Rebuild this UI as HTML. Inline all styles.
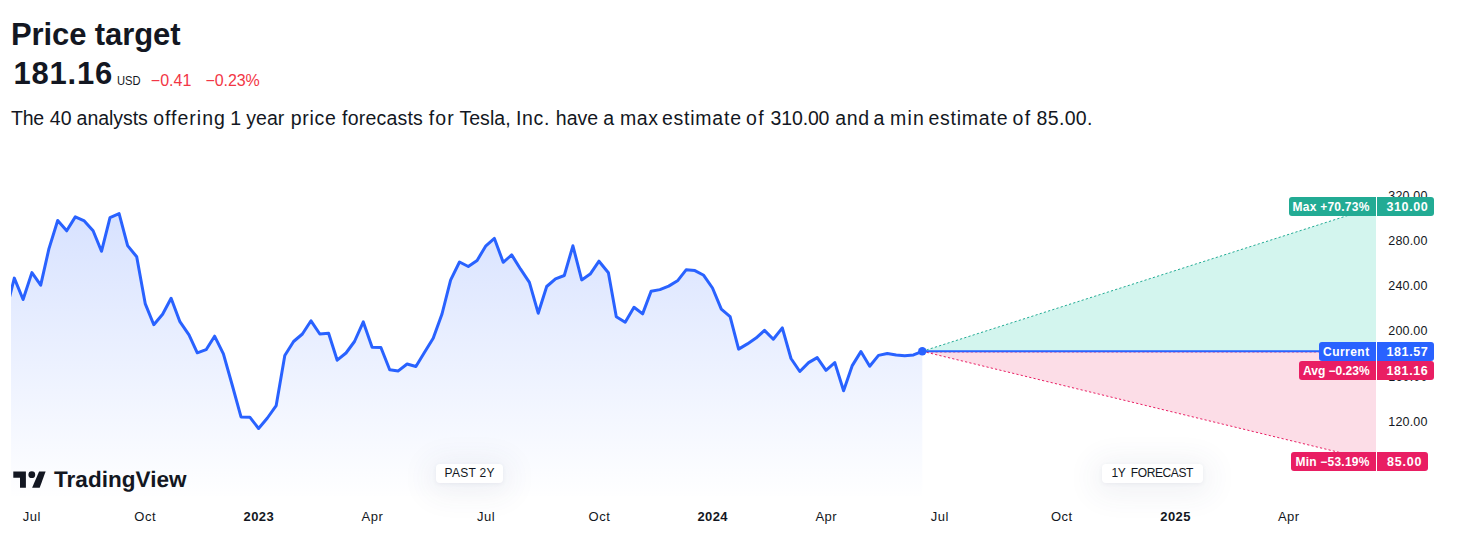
<!DOCTYPE html>
<html><head><meta charset="utf-8">
<style>
html,body{margin:0;padding:0;background:#fff;}
body{width:1463px;height:545px;position:relative;overflow:hidden;font-family:"Liberation Sans",sans-serif;color:#131722;}
.abs{position:absolute;white-space:nowrap;}
#title{left:11px;top:18px;font-size:31px;font-weight:bold;line-height:34px;letter-spacing:-0.1px;}
#price{left:13.4px;top:57px;font-size:31px;font-weight:bold;line-height:34px;letter-spacing:0.8px;}
#usd{left:117px;top:73.4px;font-size:13px;line-height:16px;transform:scaleX(0.86);transform-origin:0 0;}
#chg1{left:150.8px;top:70.8px;font-size:16px;line-height:20px;color:#f23645;}
#chg2{left:205.5px;top:70.8px;font-size:16px;line-height:20px;color:#f23645;letter-spacing:-0.1px;}
#desc{left:11px;top:106px;font-size:19.5px;line-height:24px;}
#desc span{position:absolute;top:0;}
svg{position:absolute;left:0;top:0;}
.yl{position:absolute;left:1388.3px;width:60px;font-size:12.5px;line-height:16px;letter-spacing:0.17px;color:#131722;white-space:nowrap;}
.xl{position:absolute;top:508.5px;width:60px;text-align:center;font-size:13px;line-height:16px;color:#131722;white-space:nowrap;letter-spacing:0.5px;text-indent:0.5px;}
.xl.b{font-weight:bold;letter-spacing:0.4px;text-indent:0.4px;}
.tag{position:absolute;height:18.6px;line-height:20.4px;font-size:12.5px;font-weight:bold;color:#fff;white-space:nowrap;box-sizing:border-box;text-align:right;}
.tag.l{border-radius:3px 0 0 3px;padding-right:6.2px;font-size:12px;}
.tag.v{left:1377.2px;border-radius:0 3px 3px 0;padding-right:5.6px;letter-spacing:0.62px;}
.g{background:#22ab94;} .bl{background:#2962ff;} .p{background:#e91e63;}
.badge{position:absolute;top:464px;height:19px;line-height:19px;background:#fff;border-radius:4px;font-size:12px;text-align:center;letter-spacing:0.3px;text-indent:0.3px;color:#131722;box-shadow:0 1px 4px rgba(60,70,110,0.07),0 4px 30px 8px rgba(60,70,110,0.07);white-space:nowrap;}
#logo{left:54px;top:466px;font-size:22.5px;font-weight:bold;line-height:28px;letter-spacing:0.05px;text-rendering:geometricPrecision;color:#131722;}
</style></head><body>
<div class="abs" id="title">Price target</div>
<div class="abs" id="price">181.16</div>
<div class="abs" id="usd">USD</div>
<div class="abs" id="chg1">&minus;0.41</div>
<div class="abs" id="chg2">&minus;0.23%</div>
<div class="abs" id="desc"><span style="left:0.1px;letter-spacing:-0.30px">The</span><span style="left:38.7px;letter-spacing:0.10px">40</span><span style="left:65.6px;letter-spacing:-0.04px">analysts</span><span style="left:142.2px;letter-spacing:0.99px">offering</span><span style="left:219.3px;letter-spacing:0.00px">1</span><span style="left:235.2px;letter-spacing:0.07px">year</span><span style="left:279.7px;letter-spacing:0.73px">price</span><span style="left:331.0px;letter-spacing:0.22px">forecasts</span><span style="left:417.8px;letter-spacing:1.10px">for</span><span style="left:448.4px;letter-spacing:0.06px">Tesla,</span><span style="left:504.9px;letter-spacing:0.73px">Inc.</span><span style="left:544.8px;letter-spacing:-0.00px">have</span><span style="left:592.2px;letter-spacing:0.00px">a</span><span style="left:609.1px;letter-spacing:0.50px">max</span><span style="left:650.9px;letter-spacing:0.77px">estimate</span><span style="left:735.1px;letter-spacing:1.20px">of</span><span style="left:759.6px;letter-spacing:-0.16px">310.00</span><span style="left:824.3px;letter-spacing:0.60px">and</span><span style="left:862.6px;letter-spacing:0.00px">a</span><span style="left:879.1px;letter-spacing:1.15px">min</span><span style="left:917.4px;letter-spacing:0.77px">estimate</span><span style="left:1001.6px;letter-spacing:1.20px">of</span><span style="left:1025.6px;letter-spacing:0.32px">85.00.</span></div>

<svg width="1463" height="545" viewBox="0 0 1463 545">
<defs>
<linearGradient id="ag" gradientUnits="userSpaceOnUse" x1="0" y1="190" x2="0" y2="496">
<stop offset="0" stop-color="#2962ff" stop-opacity="0.2"/>
<stop offset="1" stop-color="#2962ff" stop-opacity="0.003"/>
</linearGradient>
<clipPath id="cp"><rect x="11" y="150" width="920" height="346"/></clipPath>
</defs>
<g clip-path="url(#cp)">
<polygon points="5.5,313.5 14.3,278.1 23.1,299.5 31.9,272.6 40.7,285.2 48.9,248.9 57.7,220.5 66.7,230.8 75.3,216.9 84.3,220.9 93.1,230.8 101.5,251.3 110.0,217.6 119.1,213.6 127.6,245.6 136.7,256.8 145.2,303.6 153.8,324.7 162.6,314.2 171.1,298.3 179.9,321.7 189.0,334.9 197.3,352.8 206.1,349.7 214.6,336.2 223.4,353.9 232.2,385.0 241.0,416.9 249.8,417.2 258.6,428.5 267.4,418.0 276.2,405.6 284.8,355.5 293.6,341.5 302.4,334.0 311.0,320.8 319.8,334.0 328.6,333.2 337.2,360.2 346.0,353.0 354.5,341.5 363.3,321.9 372.1,347.3 380.9,347.5 389.7,369.8 398.3,370.9 407.1,364.0 415.9,366.5 424.4,352.5 433.2,338.2 442.0,314.0 450.6,280.1 459.5,262.0 468.3,266.5 477.1,260.4 485.9,245.8 494.4,238.4 503.2,262.3 511.7,254.9 520.6,269.2 529.4,282.4 538.2,313.2 546.7,286.5 555.5,278.8 564.3,275.5 572.9,245.8 581.7,279.9 590.2,274.1 599.0,261.2 608.4,272.8 616.3,316.8 625.2,322.2 634.0,307.2 642.6,313.9 651.1,291.3 659.9,289.6 668.7,286.1 677.5,280.8 686.1,269.8 694.9,270.6 703.7,275.3 712.5,288.0 721.3,309.2 730.1,316.6 738.6,349.1 747.4,343.9 756.0,338.1 764.5,330.4 773.3,339.2 782.3,327.9 791.0,358.5 799.8,371.5 808.6,362.6 817.2,357.6 826.0,370.3 834.8,362.6 843.6,390.7 852.1,365.9 860.9,351.6 869.7,366.2 878.5,355.4 887.3,353.5 896.2,354.9 904.7,355.7 913.5,354.9 922.3,351.3 922.3,496 5.5,496" fill="url(#ag)"/>
<polyline points="5.5,313.5 14.3,278.1 23.1,299.5 31.9,272.6 40.7,285.2 48.9,248.9 57.7,220.5 66.7,230.8 75.3,216.9 84.3,220.9 93.1,230.8 101.5,251.3 110.0,217.6 119.1,213.6 127.6,245.6 136.7,256.8 145.2,303.6 153.8,324.7 162.6,314.2 171.1,298.3 179.9,321.7 189.0,334.9 197.3,352.8 206.1,349.7 214.6,336.2 223.4,353.9 232.2,385.0 241.0,416.9 249.8,417.2 258.6,428.5 267.4,418.0 276.2,405.6 284.8,355.5 293.6,341.5 302.4,334.0 311.0,320.8 319.8,334.0 328.6,333.2 337.2,360.2 346.0,353.0 354.5,341.5 363.3,321.9 372.1,347.3 380.9,347.5 389.7,369.8 398.3,370.9 407.1,364.0 415.9,366.5 424.4,352.5 433.2,338.2 442.0,314.0 450.6,280.1 459.5,262.0 468.3,266.5 477.1,260.4 485.9,245.8 494.4,238.4 503.2,262.3 511.7,254.9 520.6,269.2 529.4,282.4 538.2,313.2 546.7,286.5 555.5,278.8 564.3,275.5 572.9,245.8 581.7,279.9 590.2,274.1 599.0,261.2 608.4,272.8 616.3,316.8 625.2,322.2 634.0,307.2 642.6,313.9 651.1,291.3 659.9,289.6 668.7,286.1 677.5,280.8 686.1,269.8 694.9,270.6 703.7,275.3 712.5,288.0 721.3,309.2 730.1,316.6 738.6,349.1 747.4,343.9 756.0,338.1 764.5,330.4 773.3,339.2 782.3,327.9 791.0,358.5 799.8,371.5 808.6,362.6 817.2,357.6 826.0,370.3 834.8,362.6 843.6,390.7 852.1,365.9 860.9,351.6 869.7,366.2 878.5,355.4 887.3,353.5 896.2,354.9 904.7,355.7 913.5,354.9 922.3,351.3" fill="none" stroke="#2962ff" stroke-width="3" stroke-linejoin="round" stroke-linecap="round"/>
</g>
<polygon points="922.3,351.3 1376,206.5 1376,351.3" fill="#d3f5ee"/>
<polygon points="922.3,351.3 1376,461.3 1376,351.3" fill="#fcdde7"/>
<line x1="922.3" y1="351.3" x2="1376" y2="206.5" stroke="#22ab94" stroke-width="1" stroke-dasharray="2.2 2.2"/>
<line x1="922.3" y1="351.3" x2="1376" y2="461.3" stroke="#e91e63" stroke-width="1" stroke-dasharray="2.2 2.2"/>
<line x1="922.3" y1="351.9" x2="1376" y2="351.9" stroke="#e91e63" stroke-width="1" stroke-dasharray="2.2 2.2"/>
<line x1="922.3" y1="351.3" x2="1376" y2="351.3" stroke="#2962ff" stroke-width="2"/>
<circle cx="922.3" cy="351.3" r="4.2" fill="#2962ff"/>
<!-- TradingView logo mark -->
<g fill="#131722">
<path d="M13.3 471.6 H25.9 V487.8 H20 V477.8 H13.3 Z"/>
<circle cx="31.8" cy="474.7" r="3.4"/>
<path d="M39.1 471.6 H45.6 L39.7 487.8 H32.1 Z"/>
</g>
</svg>

<div class="yl" style="top:188.0px">320.00</div>
<div class="yl" style="top:233.0px">280.00</div>
<div class="yl" style="top:278.0px">240.00</div>
<div class="yl" style="top:323.0px">200.00</div>
<div class="yl" style="top:369.0px">160.00</div>
<div class="yl" style="top:414.0px">120.00</div>
<div class="yl" style="top:459.0px">80.00</div>
<div class="xl" style="left:1.6px">Jul</div>
<div class="xl" style="left:114.9px">Oct</div>
<div class="xl b" style="left:228.7px">2023</div>
<div class="xl" style="left:342.2px">Apr</div>
<div class="xl" style="left:455.9px">Jul</div>
<div class="xl" style="left:569.2px">Oct</div>
<div class="xl b" style="left:682.5px">2024</div>
<div class="xl" style="left:796.0px">Apr</div>
<div class="xl" style="left:909.6px">Jul</div>
<div class="xl" style="left:1031.5px">Oct</div>
<div class="xl b" style="left:1145.4px">2025</div>
<div class="xl" style="left:1258.5px">Apr</div>

<div class="tag l g" style="left:1289.2px;top:197px;width:86.6px;letter-spacing:0.24px">Max +70.73%</div>
<div class="tag v g" style="top:197px;width:56.8px;">310.00</div>
<div class="tag l bl" style="left:1319.1px;top:342.2px;width:56.7px;letter-spacing:0.46px">Current</div>
<div class="tag v bl" style="top:342.2px;width:56.8px;">181.57</div>
<div class="tag l p" style="left:1299.2px;top:361.2px;width:76.6px;letter-spacing:0px">Avg &minus;0.23%</div>
<div class="tag v p" style="top:361.2px;width:56.8px;">181.16</div>
<div class="tag l p" style="left:1291.2px;top:452.2px;width:84.6px;letter-spacing:0.22px">Min &minus;53.19%</div>
<div class="tag v p" style="top:452.2px;width:50.6px;letter-spacing:0.8px">85.00</div>

<div class="badge" style="left:436px;width:67px;">PAST 2Y</div>
<div class="badge" style="left:1102px;width:101px;letter-spacing:-0.4px;word-spacing:2.6px;padding-right:0.8px;box-sizing:border-box">1Y FORECAST</div>
<div class="abs" id="logo">TradingView</div>
</body></html>
